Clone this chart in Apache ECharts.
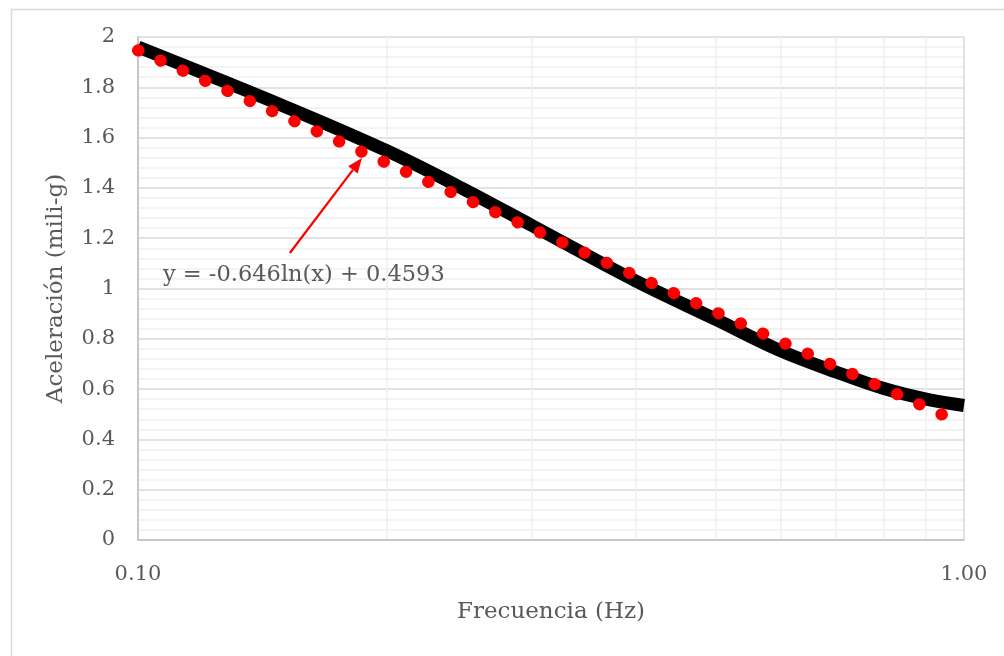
<!DOCTYPE html>
<html>
<head>
<meta charset="utf-8">
<title>Aceleración vs Frecuencia</title>
<script src="https://cdn.jsdelivr.net/npm/echarts@6/dist/echarts.min.js"></script>
<style>
  html, body { margin: 0; padding: 0; background: #ffffff; }
  #chart { width: 1004px; height: 656px; }
</style>
</head>
<body>
<div id="chart"></div>
<script>
// Measured response: frequency (Hz) and acceleration (mili-g)
const frecuencia = [0.1, 0.15, 0.2, 0.25, 0.3, 0.4, 0.5, 0.6, 0.7, 0.8, 0.9, 1.0];
const aceleracion = [1.960, 1.726, 1.548, 1.389, 1.250, 1.031, 0.878, 0.752, 0.668, 0.602, 0.560, 0.535];

// Logarithmic trendline y = a ln(x) + b
const trendA = -0.646;
const trendB = 0.4593;
const trendRange = [0.1, 0.955];
const trendLabel = 'y = -0.646ln(x) + 0.4593';

// Arrow from the equation to the trendline
const arrowFrom = [0.1527, 1.141];
const arrowTo = [0.1867, 1.519];

// Minor vertical grid (log decade subdivisions)
const minorX = [0.2, 0.3, 0.4, 0.5, 0.6, 0.7, 0.8, 0.9];

const xTitle = 'Frecuencia (Hz)';
const yTitle = 'Aceleración (mili-g)';

const FONT = '"DejaVu Serif", "Liberation Serif", serif';
const TEXT = '#595959';

const curve = frecuencia.map((f, i) => [f, aceleracion[i]]);
const trend = trendRange.map(x => [x, trendA * Math.log(x) + trendB]);

const chart = echarts.init(document.getElementById('chart'), null, { renderer: 'canvas' });

chart.setOption({
  animation: false,
  backgroundColor: '#ffffff',
  grid: { left: 138, right: 40, top: 37, bottom: 116, containLabel: false },
  xAxis: {
    type: 'log',
    logBase: 10,
    min: 0.1,
    max: 1,
    name: xTitle,
    nameLocation: 'middle',
    nameGap: 61,
    nameTextStyle: { fontFamily: FONT, fontSize: 23, color: TEXT },
    axisLine: { show: true, lineStyle: { color: '#bfbfbf', width: 1.5 } },
    axisTick: { show: false },
    axisLabel: {
      fontFamily: FONT, fontSize: 21, color: TEXT, margin: 24,
      formatter: v => Number(v).toFixed(2)
    },
    splitLine: { show: true, lineStyle: { color: '#d9d9d9', width: 1.5 } }
  },
  yAxis: {
    type: 'value',
    min: 0,
    max: 2,
    interval: 0.2,
    name: yTitle,
    nameLocation: 'middle',
    nameGap: 70,
    nameRotate: 90,
    nameTextStyle: { fontFamily: FONT, fontSize: 23, color: TEXT },
    axisLine: { show: true, lineStyle: { color: '#bfbfbf', width: 1.5 } },
    axisTick: { show: false },
    axisLabel: {
      fontFamily: FONT, fontSize: 21, color: TEXT, margin: 23,
      formatter: v => String(+v.toFixed(1))
    },
    splitLine: { show: true, lineStyle: { color: '#d9d9d9', width: 1.5 } },
    minorTick: { show: false, splitNumber: 5 },
    minorSplitLine: { show: true, lineStyle: { color: '#f0f0f0', width: 1.5 } }
  },
  series: [
    {
      name: 'grid-x',
      type: 'line',
      data: [],
      z: 0,
      silent: true,
      markLine: {
        z: 0,
        silent: true,
        symbol: 'none',
        label: { show: false },
        lineStyle: { color: '#efefef', width: 1.5, type: 'solid' },
        data: minorX.map(v => ({ xAxis: v }))
      }
    },
    {
      name: 'Aceleración',
      type: 'line',
      data: curve,
      smooth: 0.35,
      symbol: 'none',
      z: 3,
      lineStyle: { color: '#000000', width: 13, cap: 'butt', join: 'round' }
    },
    {
      name: 'Tendencia',
      type: 'line',
      data: trend,
      symbol: 'none',
      z: 4,
      lineStyle: { color: '#ff0000', width: 12, type: [0.5, 24], cap: 'round' }
    }
  ]
});

// Chart frame, equation text and the arrow (placed through the axes' scales)
const p0 = chart.convertToPixel({ gridIndex: 0 }, arrowFrom);
const p1 = chart.convertToPixel({ gridIndex: 0 }, arrowTo);
const dx = p1[0] - p0[0], dy = p1[1] - p0[1];
const len = Math.hypot(dx, dy);
const ux = dx / len, uy = dy / len;
const headLen = 15, headHalf = 6;
const base = [p1[0] - ux * headLen, p1[1] - uy * headLen];
const head = [
  [p1[0], p1[1]],
  [base[0] - uy * headHalf, base[1] + ux * headHalf],
  [base[0] + uy * headHalf, base[1] - ux * headHalf]
];

chart.setOption({
  graphic: [
    {
      type: 'rect',
      left: 9, top: 7,
      shape: { width: 1010, height: 670 },
      style: { fill: 'none', stroke: '#d9d9d9', lineWidth: 1.5 },
      silent: true, z: -10
    },
    {
      type: 'text',
      left: 163, top: 264,
      style: { text: trendLabel, font: '22.5px ' + FONT, fill: TEXT },
      z: 100
    },
    {
      type: 'line',
      shape: { x1: p0[0], y1: p0[1], x2: base[0], y2: base[1] },
      style: { stroke: '#ff0000', lineWidth: 2.2 },
      silent: true, z: 100
    },
    {
      type: 'polygon',
      shape: { points: head },
      style: { fill: '#ff0000' },
      silent: true, z: 100
    }
  ]
});
</script>
</body>
</html>
